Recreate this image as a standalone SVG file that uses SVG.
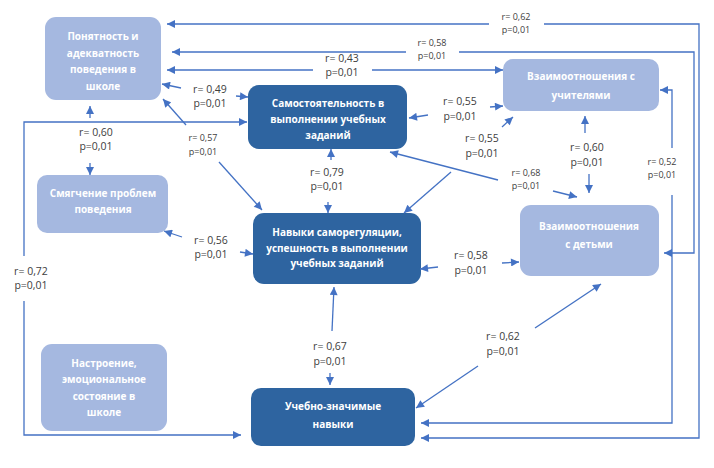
<svg xmlns="http://www.w3.org/2000/svg" width="714" height="468" viewBox="0 0 714 468">
<defs>
<marker id="a" viewBox="0 0 10 10" refX="10" refY="5" markerWidth="9" markerHeight="8" orient="auto" markerUnits="userSpaceOnUse"><path d="M0,0 L10,5 L0,10 z" fill="#4472C4"/></marker>
</defs>
<style>
.dark{fill:#2E64A0}
.light{fill:#A5B8E0}
.nt{font-family:"Open Sans","Noto Sans",sans-serif;font-weight:bold;font-size:10px;fill:#fff;text-anchor:middle}
.lb{font-family:"Open Sans","Noto Sans",sans-serif;font-size:10.5px;fill:#404040;text-anchor:middle}
.sm{font-size:9px}
.c path{fill:none;stroke:#4472C4;stroke-width:1.3;marker-end:url(#a)}
</style>
<rect width="714" height="468" fill="#fff"/>
<g id="n1"><rect class="light" x="45" y="17" width="116" height="83" rx="11"/>
<text class="nt" x="103" y="40">Понятность и</text><text class="nt" x="103" y="57">адекватность</text><text class="nt" x="103" y="73">поведения в</text><text class="nt" x="103" y="90">школе</text></g>
<g id="n2"><rect class="light" x="37" y="175" width="131" height="58" rx="10"/>
<text class="nt" x="103" y="197">Смягчение проблем</text><text class="nt" x="103" y="213">поведения</text></g>
<g id="n3"><rect class="dark" x="248" y="85" width="159" height="64" rx="11"/>
<text class="nt" x="328" y="107">Самостоятельность в</text><text class="nt" x="328" y="123">выполнении учебных</text><text class="nt" x="328" y="139">заданий</text></g>
<g id="n4"><rect class="dark" x="253" y="213" width="168" height="71" rx="11"/>
<text class="nt" x="337" y="236">Навыки саморегуляции,</text><text class="nt" x="337" y="252">успешность в выполнении</text><text class="nt" x="337" y="267">учебных заданий</text></g>
<g id="n5"><rect class="light" x="503" y="59" width="156" height="52" rx="10"/>
<text class="nt" x="581" y="80">Взаимоотношения с</text><text class="nt" x="581" y="99">учителями</text></g>
<g id="n6"><rect class="light" x="520" y="205" width="139" height="71" rx="11"/>
<text class="nt" x="589" y="230">Взаимоотношения</text><text class="nt" x="589" y="248">с детьми</text></g>
<g id="n7"><rect class="light" x="41" y="344" width="126" height="87" rx="11"/>
<text class="nt" x="104" y="367">Настроение,</text><text class="nt" x="104" y="383">эмоциональное</text><text class="nt" x="104" y="400">состояние в</text><text class="nt" x="104" y="416">школе</text></g>
<g id="n8"><rect class="dark" x="251" y="388" width="164" height="58" rx="10"/>
<text class="nt" x="333" y="410">Учебно-значимые</text><text class="nt" x="333" y="428">навыки</text></g>
<g id="connectors" class="c">
<path d="M489,24 H167"/><path d="M544,24 H699 V438 H421"/>
<path d="M406,52 H172"/><path d="M459,52 H694 V253 H664"/>
<path d="M672,148 V90 H660"/><path d="M672,195 V423 H421"/>
<path d="M313,70 H167"/><path d="M372,70 H503"/>
<path d="M181,88 L162,84"/><path d="M236,96 L248,97"/>
<path d="M90,118 L90,106"/><path d="M90,163 L90,175"/>
<path d="M186,125 L163,99"/><path d="M219,162 L262,210"/>
<path d="M24,256 V122 H247"/><path d="M24,301 V435 H241"/>
<path d="M331,160 L331,149"/><path d="M328,202 L328,213"/>
<path d="M182,237 L164,231"/><path d="M240,252 L253,254"/>
<path d="M428,115 L409,118"/><path d="M490,107 L503,106"/>
<path d="M502,127 L513,117"/><path d="M451,172 L404,213"/>
<path d="M498,180 L390,152"/><path d="M553,191 L577,197"/>
<path d="M585,133 L585,116"/><path d="M589,174 L589,193"/>
<path d="M438,267 L420,269"/><path d="M502,263 L519,262"/>
<path d="M535,328 L601,284"/><path d="M478,366 L416,408"/>
<path d="M332,331 L334,287"/><path d="M330,373 L330,385"/>
</g>
<g id="labels">
<text class="lb sm" x="516" y="20">r= 0,62</text><text class="lb sm" x="516" y="33">p=0,01</text>
<text class="lb sm" x="432" y="46">r= 0,58</text><text class="lb sm" x="432" y="59">p=0,01</text>
<text class="lb" x="342" y="62">r= 0,43</text><text class="lb" x="342" y="76">p=0,01</text>
<text class="lb" x="210" y="93">r= 0,49</text><text class="lb" x="210" y="107">p=0,01</text>
<text class="lb" x="96" y="136">r= 0,60</text><text class="lb" x="96" y="150">p=0,01</text>
<text class="lb sm" x="203" y="141">r= 0,57</text><text class="lb sm" x="203" y="155">p=0,01</text>
<text class="lb" x="327" y="176">r= 0,79</text><text class="lb" x="327" y="190">p=0,01</text>
<text class="lb" x="211" y="244">r= 0,56</text><text class="lb" x="211" y="258">p=0,01</text>
<text class="lb" x="31" y="275">r= 0,72</text><text class="lb" x="31" y="289">p=0,01</text>
<text class="lb" x="460" y="105">r= 0,55</text><text class="lb" x="460" y="120">p=0,01</text>
<text class="lb" x="482" y="142">r= 0,55</text><text class="lb" x="482" y="157">p=0,01</text>
<text class="lb sm" x="526" y="176">r= 0,68</text><text class="lb sm" x="526" y="189">p=0,01</text>
<text class="lb" x="587" y="151">r= 0,60</text><text class="lb" x="587" y="166">p=0,01</text>
<text class="lb sm" x="662" y="165">r= 0,52</text><text class="lb sm" x="662" y="178">p=0,01</text>
<text class="lb" x="471" y="259">r= 0,58</text><text class="lb" x="471" y="274">p=0,01</text>
<text class="lb" x="503" y="340">r= 0,62</text><text class="lb" x="503" y="355">p=0,01</text>
<text class="lb" x="330" y="350">r= 0,67</text><text class="lb" x="330" y="365">p=0,01</text>
</g>
</svg>
